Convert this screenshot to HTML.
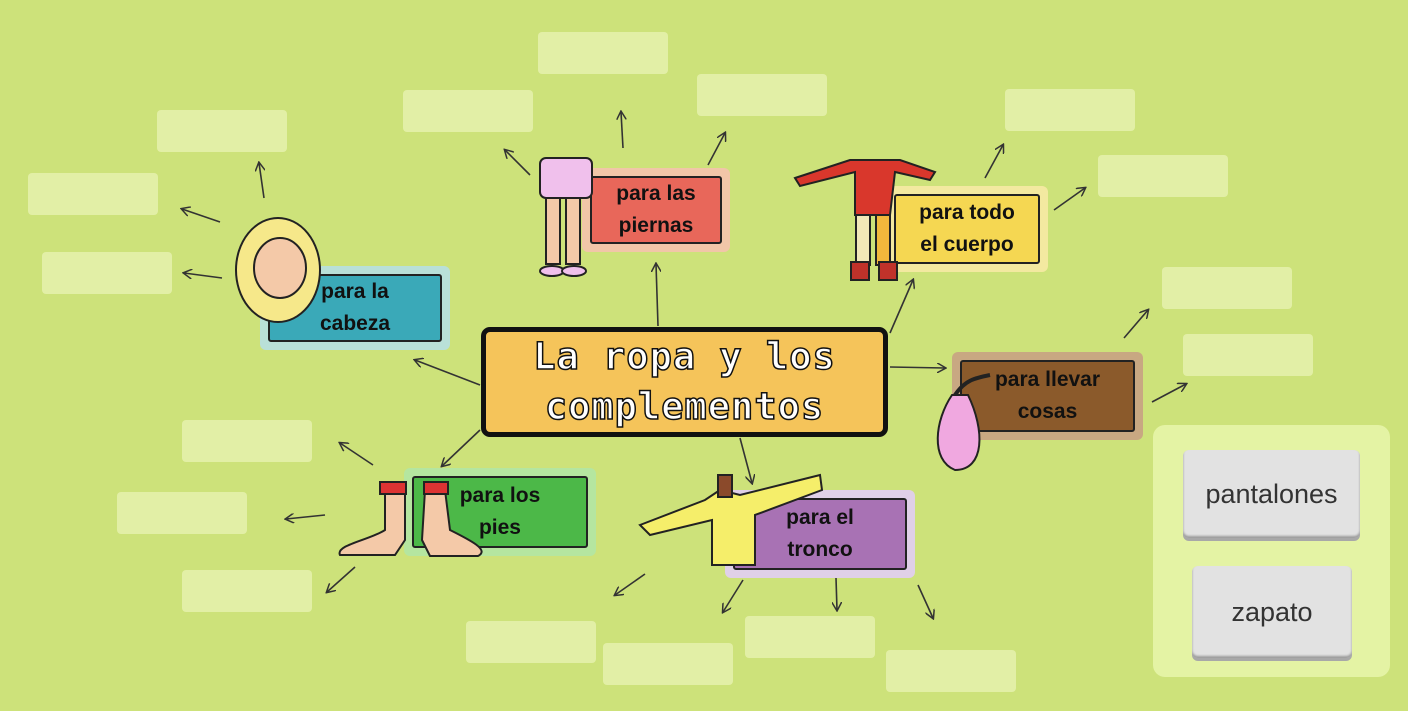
<!DOCTYPE html>
<html><head><meta charset="utf-8"><style>
body{margin:0;width:1408px;height:711px;overflow:hidden;background:#cde27a;font-family:"Liberation Sans",sans-serif;position:relative}
.e{position:absolute;width:130px;height:42px;background:#e2efa6;border-radius:4px}
.c{position:absolute;border-radius:6px;box-sizing:border-box}
.c .in{position:absolute;left:8px;top:8px;right:8px;bottom:8px;border:2px solid #222;border-radius:3px;display:flex;align-items:center;justify-content:center;text-align:center;font-weight:bold;font-size:21px;line-height:32px;color:#111}
.card{position:absolute;background:#e2e2e2;border-radius:6px;box-shadow:0 3px 0 #a8a8a8,0 -2px 2px #999 inset;display:flex;align-items:center;justify-content:center;font-size:27px;color:#333}
svg{position:absolute;left:0;top:0}
</style></head><body>
<div class="e" style="left:538px;top:32px"></div>
<div class="e" style="left:403px;top:90px"></div>
<div class="e" style="left:697px;top:74px"></div>
<div class="e" style="left:157px;top:110px"></div>
<div class="e" style="left:28px;top:173px"></div>
<div class="e" style="left:42px;top:252px"></div>
<div class="e" style="left:1005px;top:89px"></div>
<div class="e" style="left:1098px;top:155px"></div>
<div class="e" style="left:1162px;top:267px"></div>
<div class="e" style="left:1183px;top:334px"></div>
<div class="e" style="left:182px;top:420px"></div>
<div class="e" style="left:117px;top:492px"></div>
<div class="e" style="left:182px;top:570px"></div>
<div class="e" style="left:466px;top:621px"></div>
<div class="e" style="left:603px;top:643px"></div>
<div class="e" style="left:745px;top:616px"></div>
<div class="e" style="left:886px;top:650px"></div>

<svg width="1408" height="711">
<defs><marker id="a" markerWidth="10" markerHeight="10" refX="8" refY="5" orient="auto" markerUnits="userSpaceOnUse"><path d="M0,0 L9,5 L0,10" fill="none" stroke="#333" stroke-width="1.5"/></marker></defs>
<g stroke="#333" stroke-width="1.6" fill="none" marker-end="url(#a)">
<line x1="264" y1="198" x2="259" y2="163"/>
<line x1="220" y1="222" x2="182" y2="209"/>
<line x1="222" y1="278" x2="184" y2="273"/>
<line x1="530" y1="175" x2="505" y2="150"/>
<line x1="623" y1="148" x2="621" y2="112"/>
<line x1="708" y1="165" x2="725" y2="133"/>
<line x1="985" y1="178" x2="1003" y2="145"/>
<line x1="1054" y1="210" x2="1085" y2="188"/>
<line x1="1124" y1="338" x2="1148" y2="310"/>
<line x1="1152" y1="402" x2="1186" y2="384"/>
<line x1="373" y1="465" x2="340" y2="443"/>
<line x1="325" y1="515" x2="286" y2="519"/>
<line x1="355" y1="567" x2="327" y2="592"/>
<line x1="645" y1="574" x2="615" y2="595"/>
<line x1="743" y1="580" x2="723" y2="612"/>
<line x1="836" y1="578" x2="837" y2="610"/>
<line x1="918" y1="585" x2="933" y2="618"/>
<line x1="480" y1="385" x2="415" y2="360"/>
<line x1="658" y1="326" x2="656" y2="264"/>
<line x1="890" y1="333" x2="913" y2="280"/>
<line x1="890" y1="367" x2="945" y2="368"/>
<line x1="480" y1="430" x2="442" y2="466"/>
<line x1="740" y1="438" x2="752" y2="483"/>
</g>
</svg>

<div class="c" style="left:260px;top:266px;width:190px;height:84px;background:#b9e0d8"><div class="in" style="background:#3aa9b8;left:8px">para la<br>cabeza</div></div>
<div class="c" style="left:582px;top:168px;width:148px;height:84px;background:#f1c6a8"><div class="in" style="background:#e8675a">para las<br>piernas</div></div>
<div class="c" style="left:886px;top:186px;width:162px;height:86px;background:#f3e9a0"><div class="in" style="background:#f5d752">para todo<br>el cuerpo</div></div>
<div class="c" style="left:952px;top:352px;width:191px;height:88px;background:#c8a882"><div class="in" style="background:#8b5a2b">para llevar<br>cosas</div></div>
<div class="c" style="left:404px;top:468px;width:192px;height:88px;background:#b5e6a0"><div class="in" style="background:#4cb848">para los<br>pies</div></div>
<div class="c" style="left:725px;top:490px;width:190px;height:88px;background:#e0d0e8"><div class="in" style="background:#a872b4">para el<br>tronco</div></div>

<!-- illustrations -->
<svg width="1408" height="711">
<g stroke="#222" stroke-width="2">
<!-- head -->
<ellipse cx="278" cy="270" rx="42" ry="52" fill="#f6e88a"/>
<ellipse cx="280" cy="268" rx="26" ry="30" fill="#f4c9a8"/>
<!-- legs -->
<rect x="540" y="158" width="52" height="40" rx="6" fill="#f0c0ec"/>
<rect x="546" y="198" width="14" height="66" fill="#f4c9a8"/>
<rect x="566" y="198" width="14" height="66" fill="#f4c9a8"/>
<ellipse cx="552" cy="271" rx="12" ry="5" fill="#f0c0ec"/><ellipse cx="574" cy="271" rx="12" ry="5" fill="#f0c0ec"/>
<!-- whole body -->
<path d="M795 178 L850 160 L900 160 L935 172 L930 180 L895 172 L890 215 L855 215 L855 172 L800 186Z" fill="#d9372c"/>
<rect x="856" y="215" width="14" height="50" fill="#f2e8b8"/><rect x="876" y="215" width="14" height="50" fill="#f2b83c"/>
<rect x="851" y="262" width="18" height="18" fill="#c0322a"/><rect x="879" y="262" width="18" height="18" fill="#c0322a"/>
<!-- bag -->
<path d="M952 395 C935 420 930 460 955 470 C985 470 985 430 968 395Z" fill="#f0a8e0"/>
<path d="M955 395 C965 380 975 378 990 375" stroke-width="4" fill="none"/>
<!-- feet -->
<path d="M385 490 L405 490 L405 540 L395 555 L340 555 C335 545 370 540 385 530Z" fill="#f4c9a8"/>
<path d="M425 490 L445 490 L450 530 C470 540 490 550 478 556 L430 556 L422 540Z" fill="#f4c9a8"/>
<rect x="380" y="482" width="26" height="12" fill="#d33"/><rect x="424" y="482" width="24" height="12" fill="#d33"/>
<!-- shirt -->
<path d="M640 525 L705 500 L720 490 L740 495 L800 480 L820 475 L822 490 L755 515 L755 565 L712 565 L712 520 L650 535Z" fill="#f5ee6a"/>
<rect x="718" y="475" width="14" height="22" fill="#8b4a2b"/>
</g>
</svg>

<div style="position:absolute;left:481px;top:327px;width:407px;height:110px;box-sizing:border-box;background:#f5c45a;border:5px solid #111;border-radius:9px;display:flex;align-items:center;justify-content:center;text-align:center;font-family:'DejaVu Sans Mono','Liberation Mono',monospace;font-weight:bold;font-size:37px;line-height:50px;color:#fff;-webkit-text-stroke:1.5px #111;letter-spacing:1px">La ropa y los<br>complementos</div>

<div style="position:absolute;left:1153px;top:425px;width:237px;height:252px;background:#e4f3a4;border-radius:12px"></div>
<div class="card" style="left:1183px;top:450px;width:177px;height:88px">pantalones</div>
<div class="card" style="left:1192px;top:566px;width:160px;height:92px">zapato</div>
</body></html>
